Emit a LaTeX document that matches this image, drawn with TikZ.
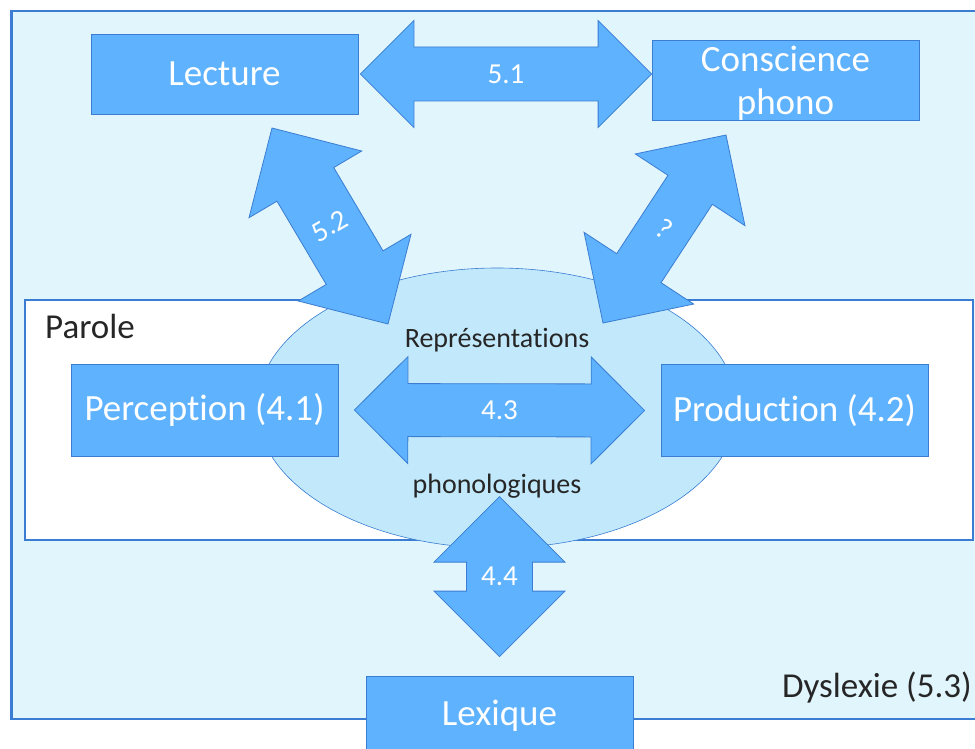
\documentclass[tikz,border=0pt]{standalone}
\usepackage{fontspec}
\setmainfont{Carlito}[Ligatures=NoCommon, Contextuals=NoAlternate]
\usetikzlibrary{calc}

\definecolor{boxblue}{RGB}{95,178,253}
\definecolor{lineblue}{RGB}{58,125,210}
\definecolor{paleblue}{RGB}{225,245,253}
\definecolor{ovalblue}{RGB}{194,233,251}
\definecolor{darktext}{RGB}{38,38,38}

\def\dyslexiebox{(11.5,11) rectangle (990,719)}
\def\parolebox{(25,300) rectangle (973,540)}
\def\phonooval{(497,408) ellipse (240 and 140)}

% double block arrow from #1 to #2, head half width #3, shaft half width #4
\newcommand\blockarrow[4]{%
  \coordinate (ha) at ($(#1)!#3!(#2)$);
  \coordinate (hb) at ($(#2)!#3!(#1)$);
  \draw[bigarrow] (#1) -- ($(ha)!#3!90:(#2)$) -- ($(ha)!#4!90:(#2)$)
    -- ($(hb)!#4!-90:(#1)$) -- ($(hb)!#3!-90:(#1)$) -- (#2)
    -- ($(hb)!#3!90:(#1)$) -- ($(hb)!#4!90:(#1)$)
    -- ($(ha)!#4!-90:(#2)$) -- ($(ha)!#3!-90:(#2)$) -- cycle;
}

\tikzset{
  boxnode/.style={fill=boxblue, draw=lineblue, line width=0.8pt, text=white,
    font=\fontsize{37}{42}\selectfont, inner sep=0pt,
    minimum width=267pt, minimum height=80pt},
  boxtext/.style={text=white, font=\fontsize{37}{42}\selectfont, inner sep=0pt},
  bigarrow/.style={fill=boxblue, draw=lineblue, line width=0.8pt, line join=miter},
  arrowlabel/.style={text=white, font=\fontsize{29}{34}\selectfont, inner sep=0pt},
  plaintext/.style={text=darktext, font=\fontsize{35}{40}\selectfont, inner sep=0pt},
  ovaltext/.style={text=darktext, font=\fontsize{28}{33}\selectfont, inner sep=0pt}
}

\begin{document}
\begin{tikzpicture}[x=1pt, y=-1pt]
    \useasboundingbox (0,0) rectangle (975,749);
    \clip (0,0) rectangle (975,749);

    % the frames, from the outside in
    \draw[fill=paleblue, draw=lineblue, line width=2.5pt] \dyslexiebox;
    \draw[fill=white, draw=lineblue, line width=2.5pt] \parolebox;
    \draw[fill=ovalblue, draw=lineblue, line width=0.6pt] \phonooval;

    \node[plaintext, anchor=base west] (parole) at (45,338) {Parole};
    \node[plaintext, anchor=base east] (dyslexie) at (972,697) {Dyslexie (5.3)};
    \node[ovaltext, anchor=base] (repr) at (497,347) {Représentations};
    \node[ovaltext, anchor=base] (phonol) at (497,493) {phonologiques};

    % the boxes
    \node[boxnode] (lecture) at (224.5,74) {\raisebox{-2pt}{Lecture}};
    \node[boxnode] (conscience) at (785.5,80) {};
    \node[boxtext, align=center] (consctext) at ([yshift=-3pt]conscience.center)
        {Conscience\\[1pt]phono};
    \node[boxnode, minimum height=92pt] (perception) at (204.5,410) {Perception (4.1)};
    \node[boxnode, minimum height=92pt] (production) at (794.5,410.5) {Production (4.2)};
    \node[boxnode] (lexique) at (499.5,716) {Lexique};

    % Now the arrows between them
    \coordinate (l51) at ([xshift=2pt]lecture.east);
    \coordinate (c51) at (lecture.east -| conscience.west);
    \blockarrow{l51}{c51}{53.5pt}{27pt}
    \node[arrowlabel] (t51) at ($(l51)!0.5!(c51)$) {5.1};

    \coordinate (p43) at ([xshift=16pt]perception.east);
    \coordinate (q43) at ([xshift=-16pt]production.west);
    \blockarrow{p43}{q43}{53.5pt}{26.5pt}
    \node[arrowlabel] (t43) at ($(p43)!0.5!(q43)$) {4.3};

    \coordinate (x44) at ([yshift=179pt]lexique.north);
    \coordinate (y44) at ([yshift=19pt]lexique.north);
    \blockarrow{x44}{y44}{65.5pt}{33pt}
    \node[arrowlabel] (t44) at ($(x44)!0.5!(y44)$) {4.4};

    \coordinate (l52) at (272,128);
    \coordinate (r52) at (388,324);
    \blockarrow{l52}{r52}{65.5pt}{33pt}
    \node[arrowlabel, rotate=30] (t52) at ($(l52)!0.5!(r52)$) {5.2};

    \coordinate (cq) at (726,135);
    \coordinate (rq) at (603,323);
    \blockarrow{cq}{rq}{65.5pt}{26.5pt}
    \node[arrowlabel, rotate=-33] (tq) at ($(cq)!0.5!(rq)$) {?};

\end{tikzpicture}
\end{document}
